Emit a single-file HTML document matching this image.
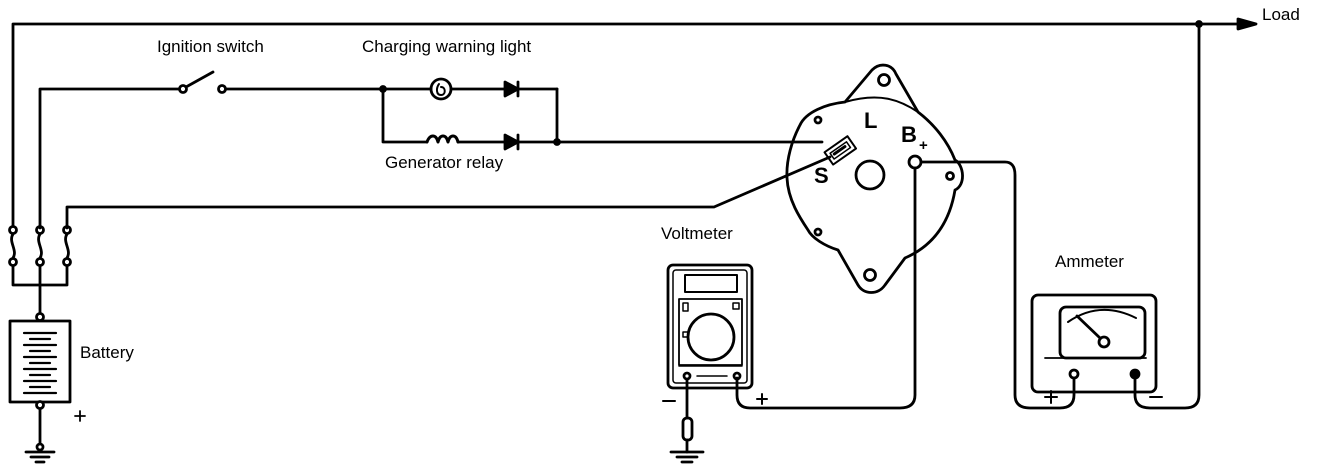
<!DOCTYPE html>
<html><head><style>
html,body{margin:0;padding:0;background:#fff;}
svg{display:block;}
text{font-family:"Liberation Sans",sans-serif;font-size:17px;fill:#000;}
</style></head><body>
<svg width="1328" height="470" viewBox="0 0 1328 470" xmlns="http://www.w3.org/2000/svg">
<g fill="none" stroke="#000" stroke-width="2.8" stroke-linejoin="round" stroke-linecap="round">
<polyline points="13,228 13,24 1245,24"/>
<path d="M1238,19 L1256,24 L1238,29 Z" fill="#000"/>
<circle cx="1199" cy="24" r="2.5" fill="#000"/>
<path d="M13,234 C8,242 18,250 13,258"/>
<path d="M40,234 C35,242 45,250 40,258"/>
<path d="M67,234 C62,242 72,250 67,258"/>
<circle cx="13" cy="230" r="3.5" fill="#fff"/><circle cx="13" cy="262" r="3.5" fill="#fff"/>
<circle cx="40" cy="230" r="3.5" fill="#fff"/><circle cx="40" cy="262" r="3.5" fill="#fff"/>
<circle cx="67" cy="230" r="3.5" fill="#fff"/><circle cx="67" cy="262" r="3.5" fill="#fff"/>
<polyline points="13,266 13,285 67,285 67,266"/>
<line x1="40" y1="266" x2="40" y2="314"/>
<circle cx="40" cy="317" r="3.5" fill="#fff"/>
<rect x="10" y="321" width="60" height="81"/>
<g stroke-width="2.2">
<line x1="24" y1="333" x2="56" y2="333"/><line x1="30" y1="339" x2="50" y2="339"/>
<line x1="24" y1="345" x2="56" y2="345"/><line x1="30" y1="351" x2="50" y2="351"/>
<line x1="24" y1="357" x2="56" y2="357"/><line x1="30" y1="363" x2="50" y2="363"/>
<line x1="24" y1="369" x2="56" y2="369"/><line x1="30" y1="375" x2="50" y2="375"/>
<line x1="24" y1="381" x2="56" y2="381"/><line x1="30" y1="387" x2="50" y2="387"/>
<line x1="24" y1="393" x2="56" y2="393"/>
</g>
<circle cx="40" cy="405" r="3.5" fill="#fff"/>
<line x1="40" y1="409" x2="40" y2="445"/>
<circle cx="40" cy="447" r="3" fill="#fff"/>
<line x1="26" y1="452" x2="54" y2="452"/><line x1="31" y1="457" x2="49" y2="457"/><line x1="36" y1="462" x2="44" y2="462"/>
<line x1="80" y1="411" x2="80" y2="421" stroke-width="1.8"/><line x1="75" y1="416" x2="85" y2="416" stroke-width="1.8"/>
<polyline points="40,228 40,89 180,89"/>
<circle cx="183" cy="89" r="3.5" fill="#fff"/>
<line x1="186" y1="87" x2="213" y2="72"/>
<circle cx="222" cy="89" r="3.5" fill="#fff"/>
<line x1="226" y1="89" x2="431" y2="89"/>
<circle cx="383" cy="89" r="2.5" fill="#000"/>
<circle cx="441" cy="89" r="10"/>
<path d="M439,84 C436,88 436,95 441,95 C446,95 446,87 441,87" stroke-width="2"/>
<line x1="451" y1="89" x2="557" y2="89"/>
<path d="M505,82 L518,89 L505,96 Z" fill="#000"/><line x1="518" y1="82" x2="518" y2="96"/>
<polyline points="383,89 383,142 427,142"/>
<path d="M427,142 C430,134 436,134 438,142 C440,134 446,134 448,142 C450,134 456,134 458,142" stroke-width="3"/>
<line x1="458" y1="142" x2="822" y2="142"/>
<path d="M505,135 L518,142 L505,149 Z" fill="#000"/><line x1="518" y1="135" x2="518" y2="149"/>
<line x1="557" y1="89" x2="557" y2="142"/>
<circle cx="557" cy="142" r="2.5" fill="#000"/>
<polyline points="67,228 67,207 714,207 830,157"/>
<path d="M800,125 C806,112 826,104 845,102 L872,70 C880,62 892,64 896,74 L918,112 C935,125 948,142 955,160 C964,165 966,185 955,190 C950,220 935,245 905,258 L885,285 C878,295 864,295 858,285 L838,250 C825,246 812,238 808,230 C800,218 788,200 787,178 C786,160 792,140 800,125 Z"/>
<path d="M845,102 C880,92 900,100 918,112" stroke-width="2"/>
<circle cx="884" cy="80" r="5.5"/>
<circle cx="870" cy="275" r="5.5"/>
<circle cx="818" cy="120" r="3"/>
<circle cx="818" cy="232" r="3"/>
<circle cx="950" cy="176" r="3.5"/>
<circle cx="870" cy="175" r="14"/>
<circle cx="915" cy="162" r="6"/>
<g transform="rotate(-35 840 150)">
<rect x="826" y="143" width="28" height="15" stroke-width="2"/>
<rect x="830" y="147" width="20" height="7" stroke-width="1.5"/>
<line x1="833" y1="150" x2="846" y2="150" stroke-width="3"/>
</g>
<path d="M921,162 L1005,162 Q1015,162 1015,175 L1015,395 Q1015,408 1030,408 L1060,408 Q1074,408 1074,395 L1074,378"/>
<path d="M915,168 L915,395 Q915,408 900,408 L750,408 Q737,408 737,395 L737,378"/>
<path d="M1135,378 L1135,395 Q1135,408 1150,408 L1185,408 Q1199,408 1199,395 L1199,24"/>
<rect x="668" y="265" width="84" height="123" rx="5"/>
<rect x="673" y="270" width="74" height="113" rx="3" stroke-width="1.5"/>
<rect x="685" y="275" width="52" height="17" stroke-width="2"/>
<rect x="679" y="299" width="63" height="66" stroke-width="1.8"/>
<circle cx="711" cy="337" r="23"/>
<rect x="683" y="303" width="5" height="8" stroke-width="1.5"/>
<rect x="733" y="303" width="6" height="6" stroke-width="1.5"/>
<rect x="683" y="332" width="5" height="5" stroke-width="1.5"/>
<line x1="679" y1="366" x2="742" y2="366" stroke-width="1.5"/>
<circle cx="687" cy="376" r="3"/><circle cx="737" cy="376" r="3"/>
<line x1="697" y1="376" x2="727" y2="376" stroke-width="1.5"/>
<line x1="687" y1="380" x2="687" y2="418"/>
<rect x="683" y="418" width="9" height="22" rx="4"/>
<line x1="687" y1="440" x2="687" y2="452"/>
<line x1="671" y1="452" x2="703" y2="452"/><line x1="677" y1="457" x2="697" y2="457"/><line x1="682" y1="462" x2="692" y2="462"/>
<line x1="663" y1="401" x2="675" y2="401" stroke-width="2"/>
<line x1="757" y1="399" x2="767" y2="399" stroke-width="2"/><line x1="762" y1="394" x2="762" y2="404" stroke-width="2"/>
<rect x="1032" y="295" width="124" height="97" rx="6"/>
<rect x="1060" y="307" width="85" height="51" rx="6"/>
<path d="M1068,322 Q1100,300 1136,318" stroke-width="2"/>
<line x1="1077" y1="316" x2="1100" y2="338"/>
<circle cx="1104" cy="342" r="5"/>
<line x1="1045" y1="358" x2="1146" y2="358" stroke-width="1.8"/>
<circle cx="1074" cy="374" r="4"/><circle cx="1135" cy="374" r="4" fill="#000"/>
<line x1="1045" y1="397" x2="1057" y2="397" stroke-width="2"/><line x1="1051" y1="391" x2="1051" y2="403" stroke-width="2"/>
<line x1="1150" y1="397" x2="1162" y2="397" stroke-width="2"/>
</g>
<text x="157" y="52">Ignition switch</text>
<text x="362" y="52">Charging warning light</text>
<text x="385" y="168">Generator relay</text>
<text x="80" y="358">Battery</text>
<text x="661" y="239">Voltmeter</text>
<text x="1055" y="267">Ammeter</text>
<text x="1262" y="20">Load</text>
<text x="864" y="128" style="font-size:22px;font-weight:bold">L</text>
<text x="901" y="142" style="font-size:22px;font-weight:bold">B</text>
<text x="919" y="150" style="font-size:15px;font-weight:bold">+</text>
<text x="814" y="183" style="font-size:22px;font-weight:bold">S</text>
</svg>
</body></html>
